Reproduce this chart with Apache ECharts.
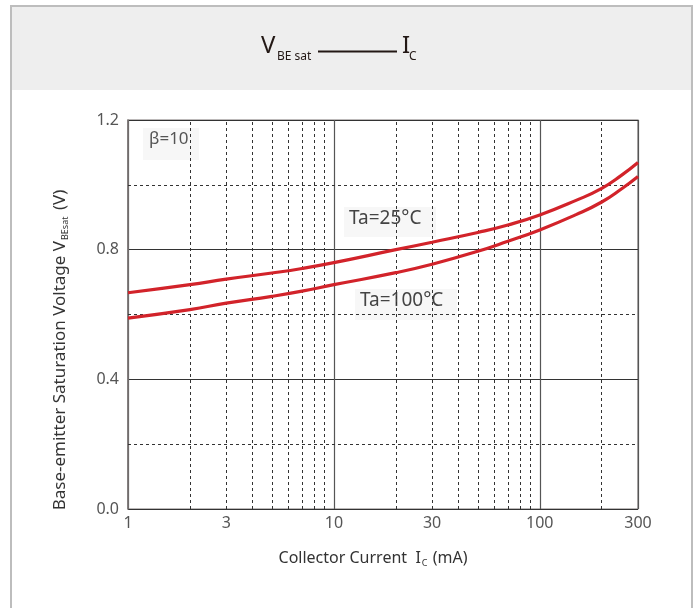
<!DOCTYPE html>
<html><head><meta charset="utf-8">
<script src="https://cdn.jsdelivr.net/npm/echarts@6/dist/echarts.min.js"></script>
<style>html,body{margin:0;padding:0;background:#fff}#c{width:699px;height:608px}</style>
</head><body><div id="c"></div>
<script>
const current = [1, 2, 3, 5, 7, 10, 20, 30, 50, 70, 100, 150, 200, 250, 300];
const vbe25  = [0.667, 0.692, 0.709, 0.728, 0.742, 0.760, 0.800, 0.823, 0.853, 0.876, 0.907, 0.952, 0.989, 1.030, 1.069];
const vbe100 = [0.589, 0.615, 0.635, 0.656, 0.672, 0.692, 0.729, 0.755, 0.795, 0.826, 0.861, 0.908, 0.947, 0.988, 1.026];
const xTickLabels = [1, 3, 10, 30, 100, 300];
const xDashed = [2, 3, 4, 5, 6, 7, 8, 9, 20, 30, 40, 50, 60, 70, 80, 90, 200];
const yDashed = [0.2, 0.6, 1.0];
const seriesNames = ['Ta=25°C', 'Ta=100°C'];

const FONT = "'Noto Sans', sans-serif";
const RED = '#d2232a';
const chart = echarts.init(document.getElementById('c'), null, {renderer: 'canvas'});

const pairs = arr => current.map((x, i) => [x, arr[i]]);

chart.setOption({
  animation: false,
  backgroundColor: '#fff',
  textStyle: {fontFamily: FONT},
  grid: {left: 128, right: 61, top: 120, bottom: 99, show: true, borderColor: '#7a7574', borderWidth: 1.2, backgroundColor: 'transparent'},
  xAxis: {
    type: 'log', logBase: 10, min: 1, max: 300,
    axisLine: {show: false}, axisTick: {show: false}, axisLabel: {show: false},
    splitLine: {show: true, lineStyle: {color: '#555', width: 1.2}}
  },
  yAxis: {
    type: 'value', min: 0, max: 1.2, interval: 0.4,
    axisLine: {show: true, lineStyle: {color: '#7a7574', width: 1.5}}, axisTick: {show: false},
    axisLabel: {color: '#555', fontSize: 16, fontFamily: FONT, margin: 9, formatter: v => v.toFixed(1)},
    splitLine: {show: true, lineStyle: {color: '#333', width: 1}}
  },
  series: [
    {
      name: 'grid', type: 'line', data: [], silent: true,
      markLine: {
        symbol: 'none', silent: true, animation: false,
        label: {show: false},
        lineStyle: {color: '#333', type: [3, 3], width: 1},
        data: xDashed.map(v => ({xAxis: v})).concat(yDashed.map(v => ({yAxis: v})))
      }
    },
    {
      name: 'ticks', type: 'line', data: [], silent: true,
      markLine: {
        symbol: 'none', silent: true, animation: false,
        lineStyle: {color: 'rgba(0,0,0,0)', width: 0},
        label: {show: true, position: 'start', distance: 6, color: '#555', fontSize: 16, fontFamily: FONT, formatter: p => String(p.value)},
        emphasis: {disabled: true},
        data: xTickLabels.map(v => ({xAxis: v}))
      }
    },
    {name: seriesNames[0], type: 'line', data: pairs(vbe25), smooth: 0.5, showSymbol: false, lineStyle: {color: RED, width: 3.2}, z: 5},
    {name: seriesNames[1], type: 'line', data: pairs(vbe100), smooth: 0.5, showSymbol: false, lineStyle: {color: RED, width: 3.2}, z: 5}
  ],
  graphic: [
    {type: 'rect', shape: {x: 11, y: 6, width: 681, height: 84}, style: {fill: '#eeeeee'}, z: -10},
    {type: 'polyline', shape: {points: [[11, 620], [11, 6], [692, 6], [692, 620]]}, style: {stroke: '#bdbdbd', lineWidth: 2, fill: null}, z: -5},
    // title
    {type: 'text', left: 261, top: 34, style: {text: 'V', fontSize: 24, fill: '#231815', fontFamily: FONT}},
    {type: 'text', left: 277, top: 51, style: {text: 'BE sat', fontSize: 12, fill: '#231815', fontFamily: FONT}},
    {type: 'line', shape: {x1: 318, y1: 51.5, x2: 397, y2: 51.5}, style: {stroke: '#231815', lineWidth: 2.2}},
    {type: 'text', left: 402, top: 34, style: {text: 'I', fontSize: 24, fill: '#231815', fontFamily: FONT}},
    {type: 'text', left: 409, top: 51, style: {text: 'C', fontSize: 12, fill: '#231815', fontFamily: FONT}},
    // annotation boxes
    {type: 'rect', shape: {x: 143, y: 128, width: 56, height: 32}, style: {fill: '#f7f7f7'}, z: 1},
    {type: 'text', left: 149, top: 131, z: 2, style: {text: 'β=10', fontSize: 17, fill: '#555', fontFamily: FONT}},
    {type: 'rect', shape: {x: 344, y: 207, width: 92, height: 30}, style: {fill: '#f7f7f7'}, z: 1},
    {type: 'text', left: 349, top: 209, z: 2, style: {text: seriesNames[0], fontSize: 19, fill: '#444', fontFamily: FONT}},
    {type: 'rect', shape: {x: 355, y: 289, width: 102, height: 31}, style: {fill: '#f7f7f7'}, z: 1},
    {type: 'text', left: 360, top: 291, z: 2, style: {text: seriesNames[1], fontSize: 19, fill: '#444', fontFamily: FONT}},
    // y axis name
    {type: 'text', x: 60, y: 350, rotation: Math.PI / 2, z: 3,
     style: {text: '{m|Base-emitter Saturation Voltage V}{s|BEsat}{m| (V)}', align: 'center', verticalAlign: 'middle',
       rich: {m: {fontSize: 17, fill: '#333', fontFamily: FONT}, s: {fontSize: 9, fill: '#333', fontFamily: FONT, padding: [11, 2, 0, 1]}}}},
    // x axis name
    {type: 'text', x: 373, y: 558, z: 3,
     style: {text: '{m|Collector Current  I}{s|C}{m| (mA)}', align: 'center', verticalAlign: 'middle',
       rich: {m: {fontSize: 16, fill: '#333', fontFamily: FONT}, s: {fontSize: 9, fill: '#333', fontFamily: FONT, padding: [10, 1, 0, 1]}}}}
  ]
});
</script></body></html>
